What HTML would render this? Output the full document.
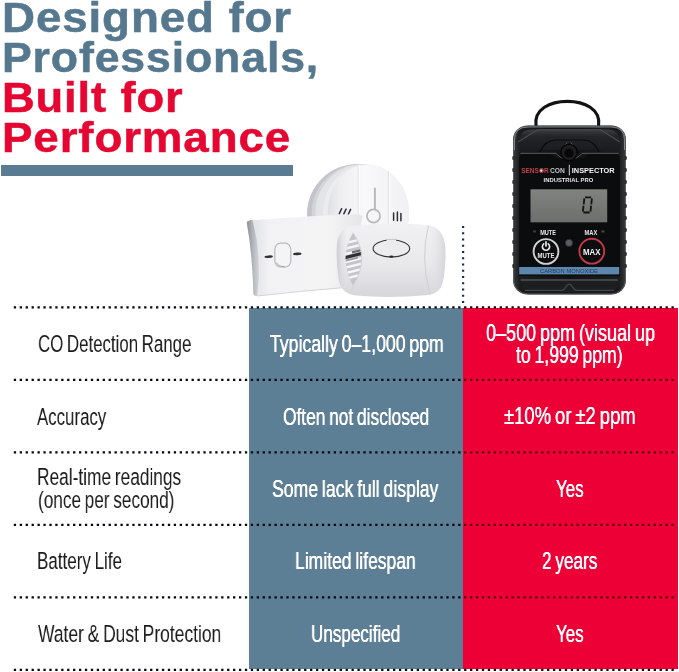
<!DOCTYPE html>
<html><head><meta charset="utf-8">
<style>
html,body{margin:0;padding:0;background:#fff;}
body{width:679px;height:672px;position:relative;overflow:hidden;font-family:"Liberation Sans",sans-serif;}
.h{position:absolute;will-change:transform;letter-spacing:0.8px;font-weight:bold;white-space:nowrap;transform-origin:0 0;}
.blue{color:#56788f;-webkit-text-stroke:0.5px #56788f;}
.red{color:#e60632;-webkit-text-stroke:0.5px #e60632;}
.bar{position:absolute;left:1px;top:165.2px;width:292.2px;height:10.8px;background:#5a7c93;}
.colb{position:absolute;left:249px;top:308px;width:213.8px;height:360.8px;background:#5d7f96;}
.colr{position:absolute;left:462.8px;top:308px;width:215px;height:360.8px;background:#ec0035;}
.t{position:absolute;white-space:nowrap;transform-origin:0 0;color:#1c1c1c;word-spacing:-1.5px;will-change:transform;}
.w{color:#fff;text-shadow:0.25px 0 0 #fff,-0.25px 0 0 #fff;}
</style></head><body>
<svg class="art" width="679" height="672" viewBox="0 0 679 672" style="position:absolute;left:0;top:0;will-change:transform">
<defs>
<linearGradient id="rd1" x1="0" y1="0" x2="1" y2="0">
<stop offset="0" stop-color="#dfe0e4"/><stop offset="0.15" stop-color="#eeeef1"/><stop offset="0.45" stop-color="#f8f8f9"/><stop offset="1" stop-color="#f1f1f3"/>
</linearGradient>
<linearGradient id="lf1" x1="0" y1="0" x2="1" y2="0">
<stop offset="0" stop-color="#d9dade"/><stop offset="0.08" stop-color="#e4e5e8"/><stop offset="0.2" stop-color="#f2f2f4"/><stop offset="0.7" stop-color="#f4f4f5"/><stop offset="1" stop-color="#e6e6e9"/>
</linearGradient>
<linearGradient id="fr1" x1="0" y1="0" x2="0" y2="1">
<stop offset="0" stop-color="#f1f1f3"/><stop offset="0.55" stop-color="#e9e9ec"/><stop offset="1" stop-color="#d6d6da"/>
</linearGradient>
<linearGradient id="fr2" x1="0" y1="0" x2="1" y2="0">
<stop offset="0" stop-color="#c9c9ce" stop-opacity="0.9"/><stop offset="0.1" stop-color="#e6e6e9" stop-opacity="0"/><stop offset="0.85" stop-color="#e6e6e9" stop-opacity="0"/><stop offset="1" stop-color="#d0d0d5" stop-opacity="0.8"/>
</linearGradient>
<linearGradient id="lfs" x1="0" y1="0" x2="1" y2="0"><stop offset="0" stop-color="#8f9196"/><stop offset="0.5" stop-color="#b4b5ba"/><stop offset="1" stop-color="#d6d7db"/></linearGradient>
<clipPath id="rclip"><rect x="300" y="160" width="115" height="66"/></clipPath>
</defs>
<!-- round detector -->
<g clip-path="url(#rclip)">
<ellipse cx="357.500" cy="214" rx="50.500" ry="50" fill="#c3c4c9"/>
<ellipse cx="360" cy="213.800" rx="48.300" ry="49.600" fill="#d3d4d8"/>
<ellipse cx="362" cy="213.500" rx="46.600" ry="49.200" fill="#e3e4e7"/>
<ellipse cx="366" cy="213.300" rx="43" ry="48.800" fill="#ebecee"/>
<ellipse cx="368.300" cy="213" rx="40.700" ry="48.300" fill="url(#rd1)"/>
<path d="M358.200 165 L358.200 226 M388.400 171 L388.400 226" stroke="#e2e3e6" stroke-width="1.200"/>
<path d="M359.300 165 L359.300 226 M389.500 171 L389.500 226" stroke="#ffffff" stroke-width="0.800"/>
<path d="M374.900 188.500 L374.900 209" stroke="#b3b4b9" stroke-width="1.800" stroke-linecap="round"/>
<circle cx="373.500" cy="216" r="6.600" fill="#f6f6f7" stroke="#b6b7bc" stroke-width="1.700"/>
<g stroke="#2e2f33" stroke-width="1.500" stroke-linecap="round">
<path d="M339.300 213.600 L341.600 208.800 M343.800 213.900 L346.100 209.100 M348.300 214.200 L350.600 209.400"/>
<path d="M393.600 220.300 L393.600 213 M397.400 220.700 L397.400 212 M400.900 220.700 L400.900 213.500"/>
</g>
</g>
<!-- left rectangular detector -->
<path d="M246.800 222.500 Q247 220.600 249.500 220.400 Q310 215.500 358 214.300 Q362.500 214.200 362.300 218 L345 287.500 Q300 291 257.500 296 Q253.800 296.300 253.400 293.500 Q252.500 255 246.800 222.500 Z" fill="url(#lf1)"/>
<path d="M246.800 222.500 Q247 220.600 249.500 220.400 L252.500 220.100 Q262.500 258 257.300 295.900 Q253.800 296.300 253.400 293.500 Q252.500 255 246.800 222.500 Z" fill="url(#lfs)"/>
<path d="M257.500 296 Q300 291 345 287.500" stroke="#d3d4d8" stroke-width="1" fill="none"/>
<rect x="274.800" y="243.200" width="16" height="23.800" rx="5.500" ry="6.500" fill="#f4f4f6" stroke="#b9babf" stroke-width="1.200"/>
<path d="M276.300 262.500 Q278.500 266.800 285 266.900" stroke="#9a9ba0" stroke-width="0.900" fill="none"/>
<ellipse cx="268.700" cy="256.700" rx="4.300" ry="1.300" fill="#2f3033" transform="rotate(-3 268.700 256.700)"/>
<ellipse cx="297.300" cy="253.900" rx="4.300" ry="1.300" fill="#2f3033" transform="rotate(-3 297.300 253.900)"/>
<!-- front detector -->
<path d="M336.800 247 Q337.500 229 352 226 Q390 221.500 428 225 Q444 227.500 445.300 248 Q446 268 442.500 283 Q440 293.500 428 295 Q390 298.500 356 295.500 Q342 294 339 281 Q336.300 265 336.800 247 Z" fill="url(#fr1)"/>
<path d="M336.800 247 Q337.500 229 352 226 Q390 221.500 428 225 Q444 227.500 445.300 248 Q446 268 442.500 283 Q440 293.500 428 295 Q390 298.500 356 295.500 Q342 294 339 281 Q336.300 265 336.800 247 Z" fill="url(#fr2)"/>
<!-- right seam -->
<path d="M428.500 225.500 Q420 258 430 294.500" fill="none" stroke="#cfcfd4" stroke-width="1"/>
<!-- vent -->
<defs><clipPath id="vclip"><path d="M353 232.700 Q338 258 353 285.700 Q370.500 258 353 232.700 Z"/></clipPath></defs>
<path d="M353 232.700 Q338 258 353 285.700 Q370.500 258 353 232.700 Z" fill="#c4c5ca"/>
<g clip-path="url(#vclip)">
<g stroke="#f6f6f8" stroke-width="2.300">
<path d="M344 243.500 L364 238.500 M344 249 L364 244 M344 254.500 L364 249.500 M344 262.500 L364 257.500 M344 268 L364 263 M344 273.500 L364 268.500 M344 279 L364 274"/>
</g>
<path d="M344 256.200 L364 251.200 L364 254.400 L344 259.400 Z" fill="#2e2f32"/>
<path d="M352 251.300 L364 248.300 L364 250.600 L352 253.600 Z" fill="#6d6e72"/>
<path d="M346 259.800 L358 256.800 L358 258.500 L346 261.500 Z" fill="#9a9b9f"/>
</g>
<path d="M353 232.700 Q370.500 258 353 285.700 L351 291" fill="none" stroke="#d0d1d5" stroke-width="0.900"/>
<!-- oval button -->
<ellipse cx="391.400" cy="248.500" rx="18.300" ry="8.600" fill="#ececef" stroke="#37383b" stroke-width="1.100"/>
<ellipse cx="391.400" cy="240.400" rx="5" ry="1.200" fill="#ececef"/>
<ellipse cx="391.400" cy="256.500" rx="2.200" ry="1.100" fill="#222326"/>
</svg>
<svg class="art" width="679" height="672" viewBox="0 0 679 672" style="position:absolute;left:0;top:0;will-change:transform">
<defs>
<linearGradient id="bodyg" x1="0" y1="0" x2="1" y2="0">
<stop offset="0" stop-color="#3a3b3d"/><stop offset="0.06" stop-color="#1b1c1e"/><stop offset="0.5" stop-color="#111214"/><stop offset="0.94" stop-color="#1b1c1e"/><stop offset="1" stop-color="#3a3b3d"/>
</linearGradient>
<linearGradient id="lcdg" x1="0" y1="0" x2="0" y2="1">
<stop offset="0" stop-color="#818381"/><stop offset="1" stop-color="#6d6f6d"/>
</linearGradient>
<linearGradient id="topg" x1="0" y1="0" x2="0" y2="1">
<stop offset="0" stop-color="#3c3d40"/><stop offset="0.25" stop-color="#242528"/><stop offset="1" stop-color="#17181a"/>
</linearGradient>
</defs>
<!-- loop -->
<path d="M536 126 C533.500 109 550.500 101.400 567.300 101.400 C584.100 101.400 601.100 109 598.600 126" fill="none" stroke="#121214" stroke-width="3.100" stroke-linecap="round"/>
<!-- body -->
<rect x="513" y="125.5" width="113" height="169" rx="15" ry="14" fill="url(#bodyg)"/>
<rect x="513.600" y="126.100" width="111.800" height="167.800" rx="14.500" ry="13.500" fill="none" stroke="#6a6b6f" stroke-width="0.900" opacity="0.850"/>
<path d="M514.500 150 L514.500 140 Q514.500 127 528 127 L611 127 Q624.500 127 624.500 140 L624.500 150" fill="none" stroke="#a0a1a4" stroke-width="0.900" opacity="0.800"/>
<!-- top bevel -->
<path d="M520 140 Q520 129.500 532 129.500 L607 129.500 Q619 129.500 619 140 L619 156 L600 150 L539 150 L520 156 Z" fill="url(#topg)"/>
<path d="M518 142 L537.500 129.800 L600.500 129.800 L620 142" fill="none" stroke="#4c4d50" stroke-width="1.100"/>
<!-- side ridges -->
<g fill="#2e2f32">
<rect x="512.300" y="156" width="2.6" height="4" rx="1"/><rect x="512.300" y="168" width="2.6" height="4" rx="1"/><rect x="512.300" y="180" width="2.6" height="4" rx="1"/><rect x="512.300" y="192" width="2.6" height="4" rx="1"/><rect x="512.300" y="204" width="2.6" height="4" rx="1"/><rect x="512.300" y="216" width="2.6" height="4" rx="1"/><rect x="512.300" y="228" width="2.6" height="4" rx="1"/><rect x="512.300" y="240" width="2.6" height="4" rx="1"/><rect x="512.300" y="252" width="2.6" height="4" rx="1"/><rect x="512.300" y="264" width="2.6" height="4" rx="1"/>
<rect x="624.200" y="156" width="2.6" height="4" rx="1"/><rect x="624.200" y="168" width="2.6" height="4" rx="1"/><rect x="624.200" y="180" width="2.6" height="4" rx="1"/><rect x="624.200" y="192" width="2.6" height="4" rx="1"/><rect x="624.200" y="204" width="2.6" height="4" rx="1"/><rect x="624.200" y="216" width="2.6" height="4" rx="1"/><rect x="624.200" y="228" width="2.6" height="4" rx="1"/><rect x="624.200" y="240" width="2.6" height="4" rx="1"/><rect x="624.200" y="252" width="2.6" height="4" rx="1"/><rect x="624.200" y="264" width="2.6" height="4" rx="1"/>
</g>
<!-- face plate -->
<path d="M519 160 Q519 153 526 153 L549 153 L556 158 L583 158 L590 153 L613 153 Q620 153 620 160 L620 276 L519 276 Z" fill="#0b0c0e"/>
<path d="M520.500 153.300 L556 153.300 Q561 159.500 569 159.500 Q577 159.500 582 153.300 L618.500 153.300" fill="none" stroke="#5c5d60" stroke-width="1"/>
<!-- clip/sensor hole -->
<path d="M540 152 Q545 140 556 140 L583 140 Q594 140 599 152" fill="none" stroke="#0a0a0b" stroke-width="1.2"/>
<circle cx="569" cy="152.500" r="8.2" fill="#1d1e20" stroke="#050506" stroke-width="1.6"/>
<circle cx="569" cy="153" r="4.6" fill="#070708"/>
<path d="M565.500 144.500 L567.500 142.500 M572.500 144.500 L570.500 142.500" stroke="#4a4b4e" stroke-width="1"/>
<!-- brand text -->
<g font-family="Liberation Sans, sans-serif" font-weight="bold">
<text x="521.200" y="173.400" font-size="7.600" fill="#c4404c" textLength="27.500" lengthAdjust="spacingAndGlyphs">SENSOR</text>
<circle cx="541.300" cy="170.600" r="1.300" fill="#e8dfe0"/>
<text x="550" y="173.400" font-size="7.600" fill="#c6c7c9" textLength="14.800" lengthAdjust="spacingAndGlyphs">CON</text>
<rect x="568.800" y="164.800" width="1" height="10.500" fill="#d0d0d2"/>
<text x="571.800" y="173.400" font-size="7.700" fill="#f4f4f4" textLength="42.800" lengthAdjust="spacingAndGlyphs">INSPECTOR</text>
<text x="543.600" y="182.300" font-size="6" fill="#e6e6e8" textLength="49.600" lengthAdjust="spacingAndGlyphs">INDUSTRIAL PRO</text>
</g>
<!-- LCD -->
<rect x="530.500" y="189.300" width="76.700" height="33" fill="url(#lcdg)"/>
<g fill="none" stroke="#131413" stroke-width="1.800" stroke-linecap="butt">
<path d="M585 197.300 L591.200 197.300 M583.400 212.500 L589.600 212.500"/>
<path d="M584.300 198.300 L583.700 204.300 M583.500 205.700 L582.900 211.600 M591.900 198.300 L591.300 204.300 M591.100 205.700 L590.500 211.600"/>
</g>
<!-- labels -->
<g font-family="Liberation Sans, sans-serif" font-weight="bold" fill="#e8e8ea">
<text x="540.200" y="235.200" font-size="6.6" textLength="15.800" lengthAdjust="spacingAndGlyphs">MUTE</text>
<text x="584.500" y="235.200" font-size="6.6" textLength="12.800" lengthAdjust="spacingAndGlyphs">MAX</text>
</g>
<rect x="533" y="230.500" width="3" height="2" fill="#3a3b36"/><rect x="601.500" y="230.500" width="3" height="2" fill="#4a4b40"/>
<circle cx="569" cy="242.900" r="3.600" fill="#5a5b5e" stroke="#2a2b2d" stroke-width="0.8"/>
<!-- MUTE button -->
<circle cx="546" cy="251.500" r="12.400" fill="#0c0d0f" stroke="#d2d2d4" stroke-width="1.900"/>
<path d="M543.700 243.900 A3.600 3.600 0 1 0 548.300 243.900" fill="none" stroke="#e8e8ea" stroke-width="1.700" stroke-linecap="round"/>
<path d="M546 241.800 L546 246" stroke="#e8e8ea" stroke-width="1.700" stroke-linecap="round"/>
<text x="537.600" y="257.600" font-family="Liberation Sans, sans-serif" font-weight="bold" font-size="6.600" fill="#e8e8ea" textLength="16.800" lengthAdjust="spacingAndGlyphs">MUTE</text>
<!-- MAX button -->
<circle cx="591.800" cy="251.200" r="12.400" fill="#0c0d0f" stroke="#c23a4a" stroke-width="1.900"/>
<text x="583" y="254.600" font-family="Liberation Sans, sans-serif" font-weight="bold" font-size="8.400" fill="#f2f2f2" textLength="17.600" lengthAdjust="spacingAndGlyphs">MAX</text>
<!-- blue strip -->
<rect x="519.200" y="267" width="100" height="7.400" fill="#5d86ad"/>
<text x="540" y="273.100" font-family="Liberation Sans, sans-serif" font-size="5.800" fill="#1f3e63" textLength="58" lengthAdjust="spacingAndGlyphs">CARBON MONOXIDE</text>
<!-- bottom panel -->
<path d="M521 281 L617.500 281 L616 289 Q612 292.500 600 292.500 L538 292.500 Q526 292.500 522.500 289 Z" fill="#1d1e20"/>
<path d="M520.500 280 L617.800 280" fill="none" stroke="#525356" stroke-width="1.700"/>
<path d="M525 290.400 L561.500 290.400 C566 290.400 565.500 284.200 569.200 284.200 C572.900 284.200 572.400 290.400 577 290.400 L614 290.400" fill="none" stroke="#434447" stroke-width="1.300"/>
</svg>

<div class="bar"></div>
<div class="colb"></div><div class="colr"></div>
<svg width="679" height="672" viewBox="0 0 679 672" style="position:absolute;left:0;top:0;will-change:transform">
<g stroke-width="2.300" stroke-dasharray="2.300 3.625" fill="none">
<path d="M13.800 307.400 L462.800 307.400" stroke="#05080c"/>
<path d="M462.800 307.400 L674.500 307.400" stroke="#1c0508" stroke-dashoffset="4.625"/>
<path d="M13.800 379.900 L462.800 379.900" stroke="#05080c"/>
<path d="M462.800 379.900 L674.500 379.900" stroke="#520012" stroke-dashoffset="4.625"/>
<path d="M13.800 452.300 L462.800 452.300" stroke="#05080c"/>
<path d="M462.800 452.300 L674.500 452.300" stroke="#520012" stroke-dashoffset="4.625"/>
<path d="M13.800 524.900 L462.800 524.900" stroke="#05080c"/>
<path d="M462.800 524.900 L674.500 524.900" stroke="#520012" stroke-dashoffset="4.625"/>
<path d="M13.800 597.400 L462.800 597.400" stroke="#05080c"/>
<path d="M462.800 597.400 L674.500 597.400" stroke="#520012" stroke-dashoffset="4.625"/>
<path d="M13.800 669.900 L462.800 669.900" stroke="#05080c"/>
<path d="M462.800 669.900 L674.500 669.900" stroke="#1c0508" stroke-dashoffset="4.625"/>
</g>
<path d="M463.100 225.900 L463.100 303.500" stroke="#1c2f40" stroke-width="2.200" stroke-dasharray="2.200 4.050" fill="none"/>
</svg>
<div class="h blue" id="h1" style="left:1.98px;top:-3.11px;font-size:41.6px;line-height:41.6px;transform:scaleX(1.0993)">Designed for</div>
<div class="h blue" id="h2" style="left:1.96px;top:36.99px;font-size:41.6px;line-height:41.6px;transform:scaleX(1.0729)">Professionals,</div>
<div class="h red" id="h3" style="left:1.97px;top:77.09px;font-size:41.6px;line-height:41.6px;transform:scaleX(1.0890)">Built for</div>
<div class="h red" id="h4" style="left:1.97px;top:116.69px;font-size:41.6px;line-height:41.6px;transform:scaleX(1.0986)">Performance</div>
<div class="t" id="a1" style="left:37.80px;top:332.30px;font-size:24.5px;line-height:24.5px;transform:scaleX(0.6877)">CO Detection Range</div>
<div class="t" id="a2" style="left:37.40px;top:404.50px;font-size:24.5px;line-height:24.5px;transform:scaleX(0.6868)">Accuracy</div>
<div class="t" id="a3a" style="left:36.78px;top:465.30px;font-size:24.5px;line-height:24.5px;transform:scaleX(0.7065)">Real-time readings</div>
<div class="t" id="a3b" style="left:37.80px;top:488.20px;font-size:24.5px;line-height:24.5px;transform:scaleX(0.7014)">(once per second)</div>
<div class="t" id="a4" style="left:36.77px;top:549.40px;font-size:24.5px;line-height:24.5px;transform:scaleX(0.6945)">Battery Life</div>
<div class="t" id="a5" style="left:37.60px;top:622.10px;font-size:24.5px;line-height:24.5px;transform:scaleX(0.7118)">Water &amp; Dust Protection</div>
<div class="t w" id="b1" style="left:269.80px;top:332.40px;font-size:24.5px;line-height:24.5px;transform:scaleX(0.7218)">Typically 0–1,000 ppm</div>
<div class="t w" id="b2" style="left:283.00px;top:404.60px;font-size:24.5px;line-height:24.5px;transform:scaleX(0.7072)">Often not disclosed</div>
<div class="t w" id="b3" style="left:272.40px;top:476.80px;font-size:24.5px;line-height:24.5px;transform:scaleX(0.7201)">Some lack full display</div>
<div class="t w" id="b4" style="left:295.39px;top:549.40px;font-size:24.5px;line-height:24.5px;transform:scaleX(0.7160)">Limited lifespan</div>
<div class="t w" id="b5" style="left:311.40px;top:622.10px;font-size:24.5px;line-height:24.5px;transform:scaleX(0.6968)">Unspecified</div>
<div class="t w" id="c1a" style="left:486.00px;top:320.90px;font-size:24.5px;line-height:24.5px;transform:scaleX(0.7355)">0–500 ppm (visual up</div>
<div class="t w" id="c1b" style="left:516.20px;top:343.20px;font-size:24.5px;line-height:24.5px;transform:scaleX(0.7194)">to 1,999 ppm)</div>
<div class="t w" id="c2" style="left:504.40px;top:403.80px;font-size:24.5px;line-height:24.5px;transform:scaleX(0.7524)">±10% or ±2 ppm</div>
<div class="t w" id="c3" style="left:556.00px;top:476.80px;font-size:24.5px;line-height:24.5px;transform:scaleX(0.6906)">Yes</div>
<div class="t w" id="c4" style="left:542.20px;top:549.40px;font-size:24.5px;line-height:24.5px;transform:scaleX(0.7027)">2 years</div>
<div class="t w" id="c5" style="left:556.00px;top:622.10px;font-size:24.5px;line-height:24.5px;transform:scaleX(0.6906)">Yes</div>
</body></html>
